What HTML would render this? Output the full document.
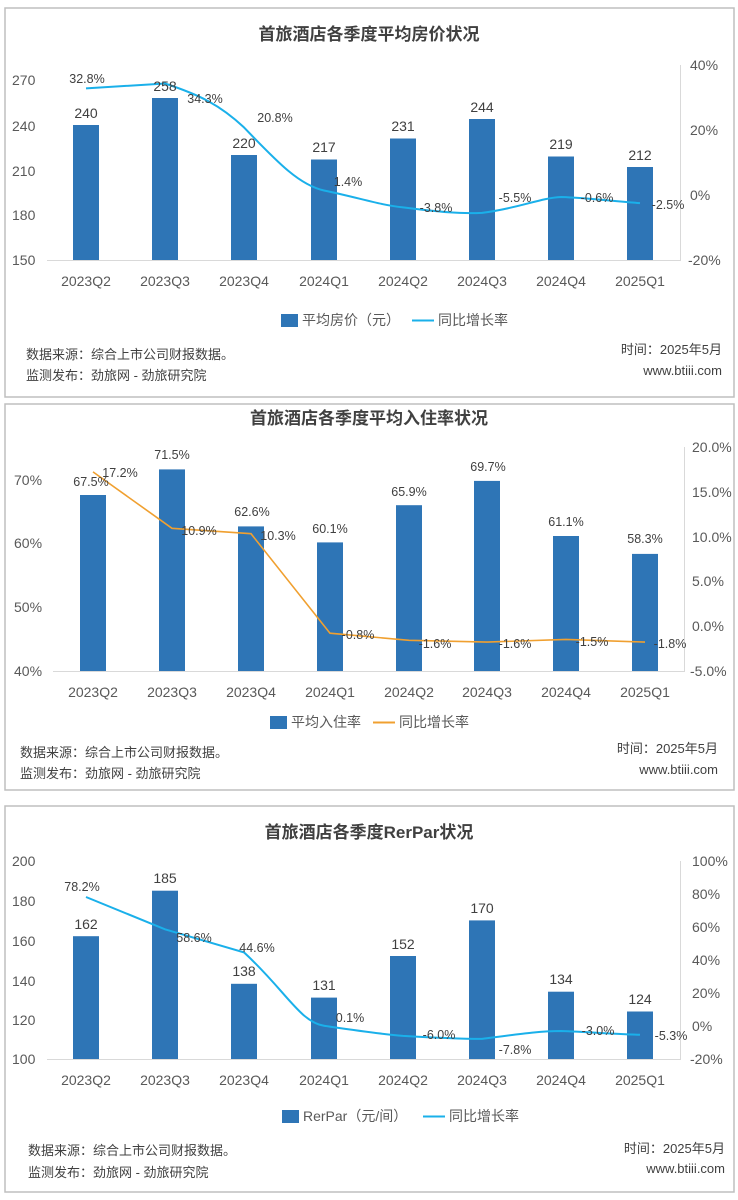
<!DOCTYPE html>
<html><head><meta charset="utf-8"><style>
html,body{margin:0;padding:0;background:#fff;}
svg{display:block;font-family:"Liberation Sans","Noto Sans CJK SC",sans-serif;}
.t{font-size:17px;font-weight:bold;fill:#404040;text-anchor:middle;}
.ax{font-size:14px;fill:#595959;}
.v{font-size:14px;fill:#404040;text-anchor:middle;}
.p{font-size:12.5px;fill:#404040;text-anchor:middle;}
.s{font-size:13px;fill:#404040;}
.c{font-size:14px;fill:#595959;text-anchor:middle;}
</style></head><body>
<svg width="738" height="1200" viewBox="0 0 738 1200">
<!-- Panel 1 -->
<rect x="5" y="8" width="729" height="389" fill="#fff" stroke="#bfbfbf" stroke-width="1.5"/>
<text class="t" x="369" y="40">首旅酒店各季度平均房价状况</text>
<g class="ax"><text x="12" y="85">270</text><text x="12" y="131">240</text><text x="12" y="176">210</text><text x="12" y="220">180</text><text x="12" y="265">150</text></g>
<g class="ax"><text x="690" y="70">40%</text><text x="690" y="135">20%</text><text x="690" y="200">0%</text><text x="688" y="265">-20%</text></g>
<line x1="47" y1="260.5" x2="681" y2="260.5" stroke="#d9d9d9"/>
<line x1="680.5" y1="65" x2="680.5" y2="260" stroke="#d9d9d9"/>
<g fill="#2e75b6">
<rect x="73" y="125" width="26" height="135"/><rect x="152" y="98" width="26" height="162"/><rect x="231" y="155" width="26" height="105"/><rect x="311" y="159.5" width="26" height="100.5"/><rect x="390" y="138.5" width="26" height="121.5"/><rect x="469" y="119" width="26" height="141"/><rect x="548" y="156.5" width="26" height="103.5"/><rect x="627" y="167" width="26" height="93"/>
</g>
<path d="M86,88.4 L165,83.5 C200,95 220,105 244,127.4 C280,165 300,185 324,190.5 C360,198 380,205 403,207.4 C440,212 460,214 482,212.9 C520,208 540,198 561,197 C590,198 610,201 640,203.1" fill="none" stroke="#1ab0ea" stroke-width="2"/>
<g class="v"><text x="86" y="118">240</text><text x="165" y="91">258</text><text x="244" y="148">220</text><text x="324" y="152">217</text><text x="403" y="131">231</text><text x="482" y="112">244</text><text x="561" y="149">219</text><text x="640" y="160">212</text></g>
<g class="p"><text x="87" y="83">32.8%</text><text x="205" y="103">34.3%</text><text x="275" y="122">20.8%</text><text x="348" y="186">1.4%</text><text x="436" y="212">-3.8%</text><text x="515" y="202">-5.5%</text><text x="597" y="202">-0.6%</text><text x="668" y="209">-2.5%</text></g>
<g class="c"><text x="86" y="286">2023Q2</text><text x="165" y="286">2023Q3</text><text x="244" y="286">2023Q4</text><text x="324" y="286">2024Q1</text><text x="403" y="286">2024Q2</text><text x="482" y="286">2024Q3</text><text x="561" y="286">2024Q4</text><text x="640" y="286">2025Q1</text></g>
<rect x="281" y="314" width="17" height="13" fill="#2e75b6"/><text class="s" x="302" y="325" style="font-size:14px;fill:#595959">平均房价（元）</text>
<line x1="412" y1="320.5" x2="434" y2="320.5" stroke="#1ab0ea" stroke-width="2"/><text class="s" x="438" y="325" style="font-size:14px;fill:#595959">同比增长率</text>
<text class="s" x="26" y="359">数据来源：综合上市公司财报数据。</text>
<text class="s" x="26" y="380">监测发布：劲旅网 - 劲旅研究院</text>
<text class="s" x="722" y="354" text-anchor="end">时间：2025年5月</text>
<text class="s" x="722" y="375" text-anchor="end">www.btiii.com</text>

<!-- Panel 2 -->
<rect x="5" y="404" width="729" height="386" fill="#fff" stroke="#bfbfbf" stroke-width="1.5"/>
<text class="t" x="369" y="424">首旅酒店各季度平均入住率状况</text>
<g class="ax"><text x="14" y="485">70%</text><text x="14" y="548">60%</text><text x="14" y="612">50%</text><text x="14" y="676">40%</text></g>
<g class="ax"><text x="692" y="452">20.0%</text><text x="692" y="497">15.0%</text><text x="692" y="542">10.0%</text><text x="692" y="586">5.0%</text><text x="692" y="631">0.0%</text><text x="690" y="676">-5.0%</text></g>
<line x1="53" y1="671.5" x2="685" y2="671.5" stroke="#d9d9d9"/>
<line x1="684.5" y1="447" x2="684.5" y2="671" stroke="#d9d9d9"/>
<g fill="#2e75b6">
<rect x="80" y="495" width="26" height="176"/><rect x="159" y="469.4" width="26" height="201.6"/><rect x="238" y="526.4" width="26" height="144.6"/><rect x="317" y="542.4" width="26" height="128.6"/><rect x="396" y="505.2" width="26" height="165.8"/><rect x="474" y="480.9" width="26" height="190.1"/><rect x="553" y="536" width="26" height="135"/><rect x="632" y="553.9" width="26" height="117.1"/>
</g>
<polyline points="93,471.9 172,528.3 251,533.7 330,633.2 409,640.3 487,642.1 566,639.4 645,642.1" fill="none" stroke="#f0a030" stroke-width="1.6"/>
<g class="p"><text x="91" y="486">67.5%</text><text x="120" y="477">17.2%</text><text x="172" y="459">71.5%</text><text x="199" y="535">10.9%</text><text x="252" y="516">62.6%</text><text x="278" y="540">10.3%</text><text x="330" y="533">60.1%</text><text x="358" y="639">-0.8%</text><text x="409" y="496">65.9%</text><text x="435" y="648">-1.6%</text><text x="488" y="471">69.7%</text><text x="515" y="648">-1.6%</text><text x="566" y="526">61.1%</text><text x="592" y="646">-1.5%</text><text x="645" y="543">58.3%</text><text x="670" y="648">-1.8%</text></g>
<g class="c"><text x="93" y="697">2023Q2</text><text x="172" y="697">2023Q3</text><text x="251" y="697">2023Q4</text><text x="330" y="697">2024Q1</text><text x="409" y="697">2024Q2</text><text x="487" y="697">2024Q3</text><text x="566" y="697">2024Q4</text><text x="645" y="697">2025Q1</text></g>
<rect x="270" y="716" width="17" height="13" fill="#2e75b6"/><text class="s" x="291" y="727" style="font-size:14px;fill:#595959">平均入住率</text>
<line x1="373" y1="722.5" x2="395" y2="722.5" stroke="#f0a030" stroke-width="2"/><text class="s" x="399" y="727" style="font-size:14px;fill:#595959">同比增长率</text>
<text class="s" x="20" y="757">数据来源：综合上市公司财报数据。</text>
<text class="s" x="20" y="778">监测发布：劲旅网 - 劲旅研究院</text>
<text class="s" x="718" y="753" text-anchor="end">时间：2025年5月</text>
<text class="s" x="718" y="774" text-anchor="end">www.btiii.com</text>

<!-- Panel 3 -->
<rect x="5" y="806" width="729" height="386" fill="#fff" stroke="#bfbfbf" stroke-width="1.5"/>
<text class="t" x="369" y="838">首旅酒店各季度RerPar状况</text>
<g class="ax"><text x="12" y="866">200</text><text x="12" y="906">180</text><text x="12" y="946">160</text><text x="12" y="986">140</text><text x="12" y="1025">120</text><text x="12" y="1064">100</text></g>
<g class="ax"><text x="692" y="866">100%</text><text x="692" y="899">80%</text><text x="692" y="932">60%</text><text x="692" y="965">40%</text><text x="692" y="998">20%</text><text x="692" y="1031">0%</text><text x="690" y="1064">-20%</text></g>
<line x1="47" y1="1059.5" x2="681" y2="1059.5" stroke="#d9d9d9"/>
<line x1="680.5" y1="861" x2="680.5" y2="1059" stroke="#d9d9d9"/>
<g fill="#2e75b6">
<rect x="73" y="936.2" width="26" height="122.8"/><rect x="152" y="890.7" width="26" height="168.3"/><rect x="231" y="983.8" width="26" height="75.2"/><rect x="311" y="997.6" width="26" height="61.4"/><rect x="390" y="956" width="26" height="103"/><rect x="469" y="920.4" width="26" height="138.6"/><rect x="548" y="991.7" width="26" height="67.3"/><rect x="627" y="1011.5" width="26" height="47.5"/>
</g>
<path d="M86,897 L165,929.3 L244,952.4 C285,990 300,1022 324,1025.8 C360,1031 380,1034 403,1035.9 C440,1038 460,1039 482,1038.9 C520,1034 540,1031 561,1031 C590,1032 610,1034 640,1034.7" fill="none" stroke="#1ab0ea" stroke-width="2"/>
<g class="v"><text x="86" y="929">162</text><text x="165" y="883">185</text><text x="244" y="976">138</text><text x="324" y="990">131</text><text x="403" y="949">152</text><text x="482" y="913">170</text><text x="561" y="984">134</text><text x="640" y="1004">124</text></g>
<g class="p"><text x="82" y="891">78.2%</text><text x="194" y="942">58.6%</text><text x="257" y="952">44.6%</text><text x="350" y="1022">0.1%</text><text x="439" y="1039">-6.0%</text><text x="515" y="1054">-7.8%</text><text x="598" y="1035">-3.0%</text><text x="671" y="1040">-5.3%</text></g>
<g class="c"><text x="86" y="1085">2023Q2</text><text x="165" y="1085">2023Q3</text><text x="244" y="1085">2023Q4</text><text x="324" y="1085">2024Q1</text><text x="403" y="1085">2024Q2</text><text x="482" y="1085">2024Q3</text><text x="561" y="1085">2024Q4</text><text x="640" y="1085">2025Q1</text></g>
<rect x="282" y="1110" width="17" height="13" fill="#2e75b6"/><text class="s" x="303" y="1121" style="font-size:14px;fill:#595959">RerPar（元/间）</text>
<line x1="423" y1="1116.5" x2="445" y2="1116.5" stroke="#1ab0ea" stroke-width="2"/><text class="s" x="449" y="1121" style="font-size:14px;fill:#595959">同比增长率</text>
<text class="s" x="28" y="1155">数据来源：综合上市公司财报数据。</text>
<text class="s" x="28" y="1177">监测发布：劲旅网 - 劲旅研究院</text>
<text class="s" x="725" y="1153" text-anchor="end">时间：2025年5月</text>
<text class="s" x="725" y="1173" text-anchor="end">www.btiii.com</text>
</svg>
</body></html>
